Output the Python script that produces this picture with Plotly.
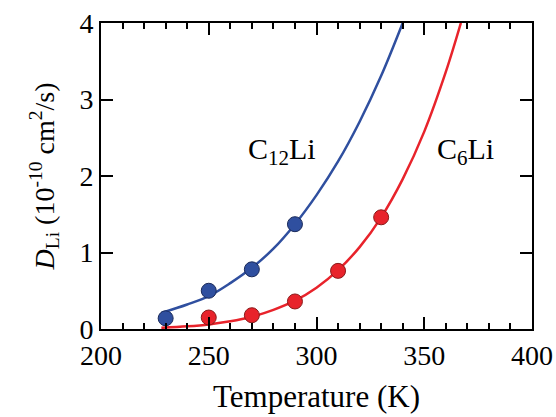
import plotly.graph_objects as go

t_c12 = [230, 250, 270, 290]
d_c12 = [0.14, 0.50, 0.78, 1.37]
t_c6 = [250, 270, 290, 310, 330]
d_c6 = [0.15, 0.18, 0.36, 0.76, 1.46]

# Fitted curves
fit_t_c12 = [228, 240, 250, 260, 270, 280, 290, 300, 310, 320, 330, 340]
fit_d_c12 = [0.21, 0.32, 0.43, 0.60, 0.80, 1.05, 1.37, 1.75, 2.19, 2.71, 3.31, 4.0]
fit_t_c6 = [228, 240, 250, 260, 270, 280, 290, 300, 310, 320, 330, 340, 350, 360, 367]
fit_d_c6 = [0.015, 0.035, 0.06, 0.10, 0.16, 0.25, 0.37, 0.54, 0.77, 1.07, 1.46, 1.96, 2.58, 3.36, 4.0]

BLUE = "#2f4f9f"
RED = "#e8232b"
FONT = "Liberation Serif"

fig = go.Figure()
fig.add_trace(go.Scatter(x=fit_t_c12, y=fit_d_c12, mode="lines", line=dict(color=BLUE, width=2.5, shape="spline"), showlegend=False))
fig.add_trace(go.Scatter(x=fit_t_c6, y=fit_d_c6, mode="lines", line=dict(color=RED, width=2.5, shape="spline"), showlegend=False))
fig.add_trace(go.Scatter(x=t_c12, y=d_c12, mode="markers", marker=dict(color=BLUE, size=15, line=dict(color="#1a2a5a", width=1)), showlegend=False, cliponaxis=False))
fig.add_trace(go.Scatter(x=t_c6, y=d_c6, mode="markers", marker=dict(color=RED, size=15, line=dict(color="#8a1a1a", width=1)), showlegend=False, cliponaxis=False))

fig.add_annotation(x=284, y=2.33, text="C<sub>12</sub>Li", showarrow=False, font=dict(family=FONT, size=30, color="black"))
fig.add_annotation(x=369, y=2.33, text="C<sub>6</sub>Li", showarrow=False, font=dict(family=FONT, size=30, color="black"))

fig.update_layout(
    width=556, height=417,
    margin=dict(l=101, r=24, t=23, b=88),
    plot_bgcolor="white", paper_bgcolor="white",
    font=dict(family=FONT, size=28, color="black"),
)
fig.update_xaxes(
    range=[200, 400], tickvals=[200, 250, 300, 350, 400],
    showgrid=False, zeroline=False, automargin=False,
    showline=True, linecolor="black", linewidth=2, mirror="ticks",
    ticks="inside", ticklen=12, tickwidth=2, tickcolor="black",
    minor=dict(dtick=10, ticks="inside", ticklen=6, tickwidth=2, tickcolor="black", showgrid=False),
    title=dict(text="Temperature (K)", font=dict(family=FONT, size=31), standoff=16),
)
fig.update_yaxes(
    range=[0, 4], tickvals=[0, 1, 2, 3, 4],
    showgrid=False, zeroline=False, automargin=False,
    showline=True, linecolor="black", linewidth=2, mirror="ticks",
    ticks="inside", ticklen=12, tickwidth=2, tickcolor="black",
    title=dict(text="<i>D</i><sub>Li</sub> (10<sup>-10</sup> cm<sup>2</sup>/s)", font=dict(family=FONT, size=28), standoff=17),
)

fig.write_html("out.html", config={"displayModeBar": False},
               post_script="document.body.style.margin='0';document.body.style.overflow='hidden';")
